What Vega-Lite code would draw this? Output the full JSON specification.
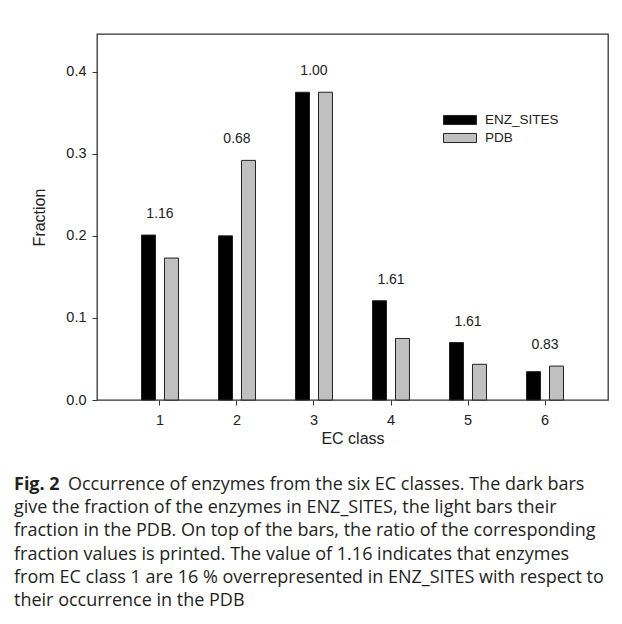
{
  "$schema": "https://vega.github.io/schema/vega-lite/v6.json",
  "padding": {"left": 14, "top": 33, "right": 0, "bottom": 0},
  "background": "white",
  "config": {"font": "Liberation Sans", "view": {"stroke": null}},
  "spacing": 28,
  "datasets": {
    "bars": [
      {"ec": "1", "series": "ENZ_SITES", "fraction": 0.201, "ratio": "1.16"},
      {"ec": "1", "series": "PDB", "fraction": 0.173, "ratio": "1.16"},
      {"ec": "2", "series": "ENZ_SITES", "fraction": 0.200, "ratio": "0.68"},
      {"ec": "2", "series": "PDB", "fraction": 0.292, "ratio": "0.68"},
      {"ec": "3", "series": "ENZ_SITES", "fraction": 0.375, "ratio": "1.00"},
      {"ec": "3", "series": "PDB", "fraction": 0.375, "ratio": "1.00"},
      {"ec": "4", "series": "ENZ_SITES", "fraction": 0.121, "ratio": "1.61"},
      {"ec": "4", "series": "PDB", "fraction": 0.075, "ratio": "1.61"},
      {"ec": "5", "series": "ENZ_SITES", "fraction": 0.070, "ratio": "1.61"},
      {"ec": "5", "series": "PDB", "fraction": 0.0435, "ratio": "1.61"},
      {"ec": "6", "series": "ENZ_SITES", "fraction": 0.0345, "ratio": "0.83"},
      {"ec": "6", "series": "PDB", "fraction": 0.0413, "ratio": "0.83"}
    ],
    "caption": [
      {"line": 0, "bold": "Fig. 2", "text": "Occurrence of enzymes from the six EC classes. The dark bars"},
      {"line": 1, "bold": "", "text": "give the fraction of the enzymes in ENZ_SITES, the light bars their"},
      {"line": 2, "bold": "", "text": "fraction in the PDB. On top of the bars, the ratio of the corresponding"},
      {"line": 3, "bold": "", "text": "fraction values is printed. The value of 1.16 indicates that enzymes"},
      {"line": 4, "bold": "", "text": "from EC class 1 are 16 % overrepresented in ENZ_SITES with respect to"},
      {"line": 5, "bold": "", "text": "their occurrence in the PDB"}
    ]
  },
  "vconcat": [
    {
      "width": 511,
      "height": 366,
      "data": {"name": "bars"},
      "view": {"stroke": "#333333", "strokeWidth": 1.3},
      "layer": [
        {
          "mark": {"type": "bar", "stroke": "#222222", "strokeWidth": 1},
          "encoding": {
            "x": {
              "field": "ec", "type": "nominal",
              "scale": {"paddingInner": 0.52, "paddingOuter": 0.578},
              "axis": {
                "title": "EC class", "labelAngle": 0, "domain": false,
                "tickSize": 5, "tickColor": "#333333", "labelPadding": 8,
                "labelFontSize": 14.5, "labelColor": "#222222",
                "titleFontSize": 16, "titleFontWeight": "normal", "titleColor": "#222222",
                "titlePadding": 4
              }
            },
            "xOffset": {
              "field": "series", "type": "nominal",
              "scale": {"paddingInner": 0.391, "paddingOuter": 0}
            },
            "y": {
              "field": "fraction", "type": "quantitative",
              "scale": {"domain": [0, 0.446], "nice": false, "zero": true},
              "axis": {
                "title": "Fraction", "values": [0, 0.1, 0.2, 0.3, 0.4], "format": ".1f",
                "grid": false, "domain": false, "tickSize": 5, "tickColor": "#333333",
                "labelPadding": 6, "labelFontSize": 14.5, "labelColor": "#222222",
                "titleFontSize": 16, "titleFontWeight": "normal", "titleColor": "#222222",
                "titlePadding": 18
              }
            },
            "fill": {
              "field": "series", "type": "nominal",
              "scale": {"domain": ["ENZ_SITES", "PDB"], "range": ["#000000", "#c0c0c0"]},
              "legend": {
                "title": null, "orient": "none", "legendX": 354, "legendY": 77,
                "padding": 0,
                "symbolType": "M-2,-0.55L2,-0.55L2,0.55L-2,0.55Z",
                "symbolSize": 272, "symbolStrokeColor": "#222222", "symbolStrokeWidth": 1,
                "labelFontSize": 13.5, "labelColor": "#222222", "labelOffset": 16,
                "rowPadding": 2,
                "encode": {"symbols": {"update": {"stroke": {"value": "#222222"}, "strokeWidth": {"value": 1}}}}
              }
            }
          }
        },
        {
          "transform": [
            {"aggregate": [{"op": "max", "field": "fraction", "as": "top"}], "groupby": ["ec", "ratio"]}
          ],
          "mark": {"type": "text", "baseline": "alphabetic", "dy": -17, "fontSize": 14, "color": "#222222"},
          "encoding": {
            "x": {"field": "ec", "type": "nominal"},
            "y": {"field": "top", "type": "quantitative", "title": "Fraction"},
            "text": {"field": "ratio"}
          }
        }
      ]
    },
    {
      "width": 511,
      "height": 116,
      "data": {"name": "caption"},
      "layer": [
        {
          "transform": [{"filter": "datum.line > 0"}],
          "mark": {"type": "text", "align": "left", "baseline": "middle", "x": -83, "font": "Open Sans", "fontSize": 18, "color": "#231f20"},
          "encoding": {
            "y": {"field": "line", "type": "ordinal", "scale": {"type": "point", "padding": 0}, "axis": null},
            "text": {"field": "text"}
          }
        },
        {
          "transform": [{"filter": "datum.line == 0"}],
          "mark": {"type": "text", "align": "left", "baseline": "middle", "x": -83, "font": "Open Sans", "fontSize": 18, "fontWeight": "bold", "color": "#231f20"},
          "encoding": {
            "y": {"field": "line", "type": "ordinal", "axis": null},
            "text": {"field": "bold"}
          }
        },
        {
          "transform": [{"filter": "datum.line == 0"}],
          "mark": {"type": "text", "align": "left", "baseline": "middle", "x": -83, "dx": 54, "font": "Open Sans", "fontSize": 18, "color": "#231f20"},
          "encoding": {
            "y": {"field": "line", "type": "ordinal", "axis": null},
            "text": {"field": "text"}
          }
        }
      ]
    }
  ]
}
